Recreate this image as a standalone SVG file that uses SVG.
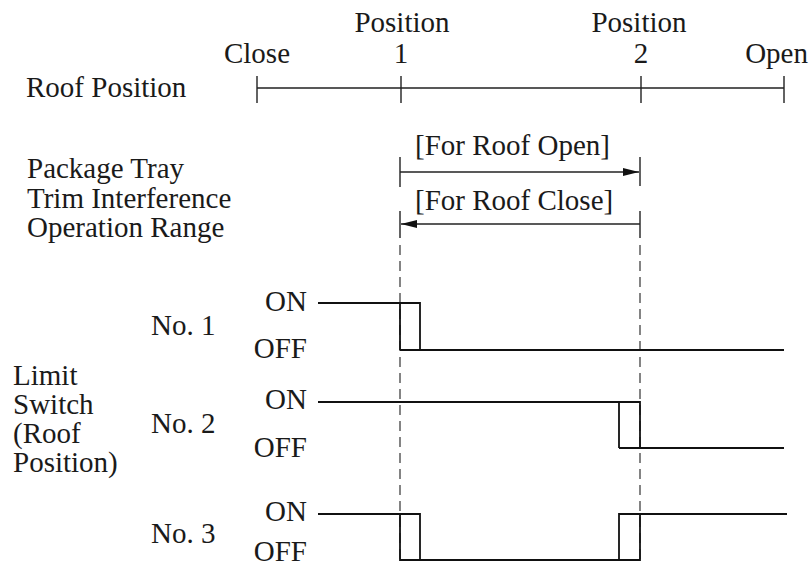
<svg xmlns="http://www.w3.org/2000/svg" width="809" height="567" viewBox="0 0 809 567">
<defs>
<style>
text{font-family:"Liberation Serif","Times New Roman",serif;font-size:29px;fill:#1a1a1a}
.m{text-anchor:middle}
.e{text-anchor:end}
.ax{stroke:#222;stroke-width:1.4;fill:none}
.sig{stroke:#111;stroke-width:1.8;fill:none;stroke-linejoin:miter}
.dash{stroke:#333;stroke-width:1.2;stroke-dasharray:10 6;fill:none}
</style>
<marker id="ah" viewBox="0 0 16 8" refX="16" refY="4" markerWidth="16" markerHeight="8" markerUnits="userSpaceOnUse" orient="auto-start-reverse">
<path d="M0,0 L16,4 L0,8 Z" fill="#111"/>
</marker>
</defs>
<rect width="809" height="567" fill="#fff"/>

<g id="roof-position-axis">
<text x="26" y="97">Roof Position</text>
<text class="m" x="257" y="63">Close</text>
<text class="m" x="402" y="32">Position</text>
<text class="m" x="401" y="63">1</text>
<text class="m" x="639" y="32">Position</text>
<text class="m" x="641" y="63">2</text>
<text class="e" x="808" y="63">Open</text>
<path class="ax" d="M257,88 H784 M257,76 V103 M401,76 V103 M641,76 V103 M784,76 V103"/>
</g>

<g id="operation-range">
<text x="27" y="178">Package Tray</text>
<text x="27" y="208">Trim Interference</text>
<text x="27" y="237">Operation Range</text>
<text x="415" y="155">[For Roof Open]</text>
<text x="415" y="210">[For Roof Close]</text>
<path class="ax" d="M400,157 V187 M640,157 V186 M400,211 V238 M640,211 V238"/>
</g>

<g id="connectors">
<line class="ax" x1="400" y1="172" x2="639" y2="172" marker-end="url(#ah)"/>
<line class="ax" x1="640" y1="224" x2="401" y2="224" marker-end="url(#ah)"/>
<line class="dash" x1="400" y1="245" x2="400" y2="560"/>
<line class="dash" x1="640" y1="245" x2="640" y2="560"/>
</g>

<g id="limit-switch-label">
<text x="13" y="385">Limit</text>
<text x="13" y="414">Switch</text>
<text x="13" y="443">(Roof</text>
<text x="13" y="472">Position)</text>
</g>

<g id="switch-1">
<text x="151" y="335">No. 1</text>
<text class="e" x="307" y="311">ON</text>
<text class="e" x="307" y="358">OFF</text>
<path class="sig" d="M318,303 H420 V350 M400,303 V350 M400,350 H784"/>
</g>

<g id="switch-2">
<text x="151" y="433">No. 2</text>
<text class="e" x="307" y="409">ON</text>
<text class="e" x="307" y="457">OFF</text>
<path class="sig" d="M318,402 H640 V448 M619,402 V448 M619,448 H784"/>
</g>

<g id="switch-3">
<text x="151" y="543">No. 3</text>
<text class="e" x="307" y="521">ON</text>
<text class="e" x="307" y="561">OFF</text>
<path class="sig" d="M318,514 H420 V560 M400,514 V560 H640 V514 M619,560 V514 H787"/>
</g>
</svg>
